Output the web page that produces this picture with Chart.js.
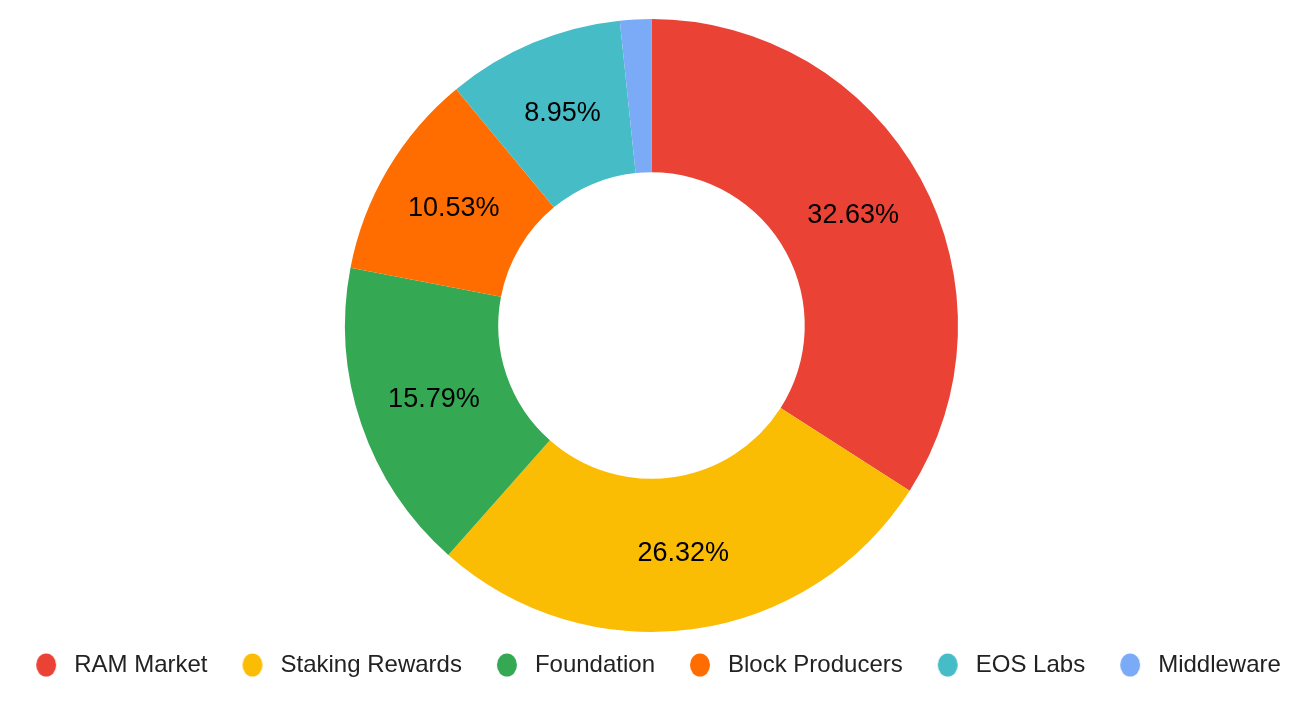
<!DOCTYPE html>
<html>
<head>
<meta charset="utf-8">
<script src="https://cdn.jsdelivr.net/npm/chart.js@4"></script>
<style>
  html, body { margin: 0; padding: 0; background: #fff; }
  #wrap { width: 1303px; height: 703px; }
</style>
</head>
<body>
<div id="wrap"><canvas id="chart"></canvas></div>
<script>
// Datos del gráfico
const categories = ['RAM Market', 'Staking Rewards', 'Foundation', 'Block Producers', 'EOS Labs', 'Middleware'];
const shares = [32.63, 26.32, 15.79, 10.53, 8.95, 1.58];
const sliceColors = ['#EA4335', '#FBBC04', '#34A853', '#FF6D01', '#46BDC6', '#7BAAF7'];

const FONT = '"Liberation Sans", Arial, sans-serif';

// Punto de leyenda como canvas (elipse de color, algo desplazada a la derecha)
function legendDot(color) {
    const c = document.createElement('canvas');
    c.width = 30;
    c.height = 24;
    const ctx = c.getContext('2d');
    ctx.fillStyle = color;
    ctx.beginPath();
    ctx.ellipse(19, 12, 10, 11.5, 0, 0, Math.PI * 2);
    ctx.fill();
    return c;
}
const dots = sliceColors.map(legendDot);

// Etiquetas de porcentaje dentro de cada sector
const sliceLabels = {
    id: 'sliceLabels',
    afterDatasetsDraw(chart) {
        const ctx = chart.ctx;
        const meta = chart.getDatasetMeta(0);
        ctx.save();
        ctx.font = '27px ' + FONT;
        ctx.fillStyle = '#000';
        ctx.textAlign = 'center';
        ctx.textBaseline = 'middle';
        meta.data.forEach((arc, i) => {
            if (shares[i] < 5) return;
            const p = arc.tooltipPosition();
            ctx.fillText(shares[i].toFixed(2) + '%', p.x, p.y);
        });
        ctx.restore();
    }
};

new Chart(document.getElementById('chart'), {
    type: 'doughnut',
    data: {
        labels: categories,
        datasets: [{
            data: shares,
            backgroundColor: sliceColors,
            borderWidth: 0,
            hoverOffset: 0
        }]
    },
    options: {
        responsive: true,
        maintainAspectRatio: false,
        animation: false,
        cutout: '50%',
        layout: { padding: { top: 19, bottom: 16 } },
        plugins: {
            tooltip: { enabled: false },
            legend: {
                position: 'bottom',
                labels: {
                    usePointStyle: true,
                    pointStyleWidth: 40,
                    boxHeight: 24,
                    padding: 21,
                    color: '#222',
                    font: { family: FONT, size: 24 },
                    generateLabels(chart) {
                        const items = Chart.overrides.doughnut.plugins.legend.labels.generateLabels(chart);
                        return items.map((item, i) => Object.assign(item, { pointStyle: dots[i] }));
                    }
                }
            }
        }
    },
    plugins: [sliceLabels]
});
</script>
</body>
</html>
